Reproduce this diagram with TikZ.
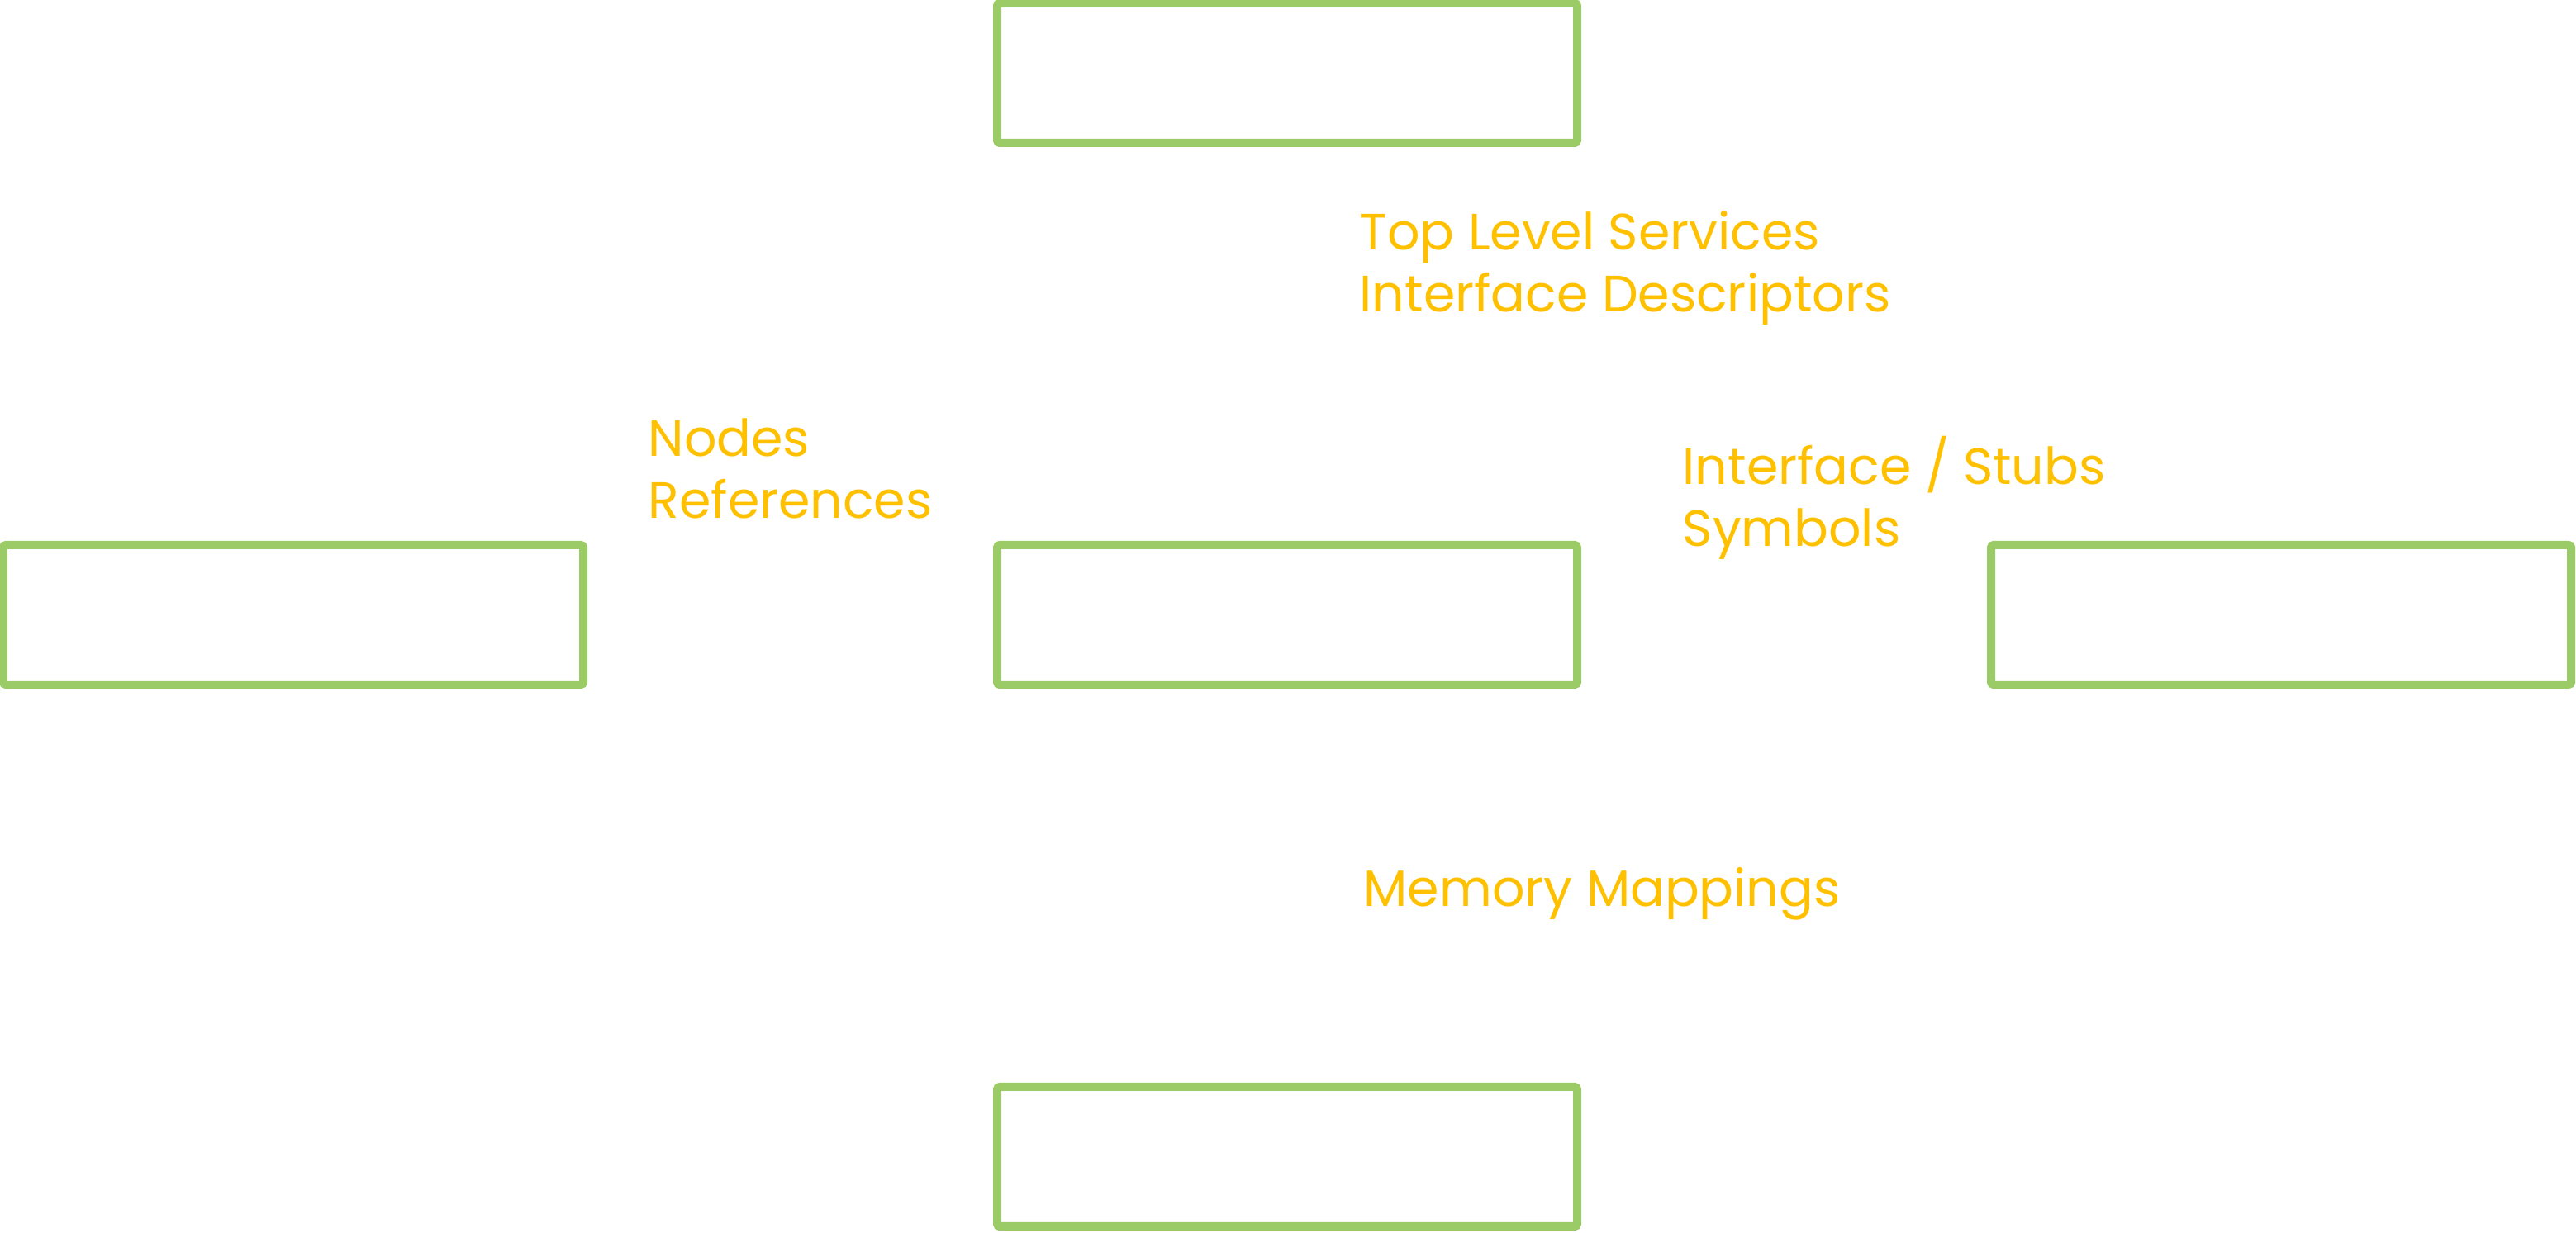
\documentclass[tikz,border=0pt]{standalone}
\usepackage{fontspec}
\setmainfont{Poppins}
\usepackage{tikz}
\usetikzlibrary{positioning}
\definecolor{colorbox}      {RGB}{155,203,102}
\definecolor{colorlabel}    {RGB}{255,192,0  }

\begin{document}
\begin{tikzpicture}[
    node distance = 4.87cm and 5.01cm,
    layer/.style={draw=colorbox,line width=0.1cm,rounded corners=0.03cm,
        minimum width=7.02cm,minimum height=1.69cm,inner sep=0pt,outer sep=0pt},
    label/.style={text=colorlabel,font={\fontsize{17.6}{21.6}\selectfont},
        align=left,inner sep=0pt,anchor=base west},
]

    \useasboundingbox (0,0) rectangle (31.18,14.93);

    \node[layer] (core) at (15.58,7.485) {};
    \node[layer,above=of core] (services) {};
    \node[layer,below=of core] (memory) {};
    \node[layer,left=of core] (nodes) {};
    \node[layer,right=of core] (stubs) {};

    % base of the last line
    \node[label] (lservices) at (16.45,11.15) {Top Level Services\\Interface Descriptors};
    \node[label] (lnodes) at (7.84,8.65) {Nodes\\References};
    \node[label] (lstubs) at (20.36,8.31) {Interface / Stubs\\Symbols};
    \node[label] (lmemory) at (16.50,3.95) {Memory Mappings};

\end{tikzpicture}
\end{document}
